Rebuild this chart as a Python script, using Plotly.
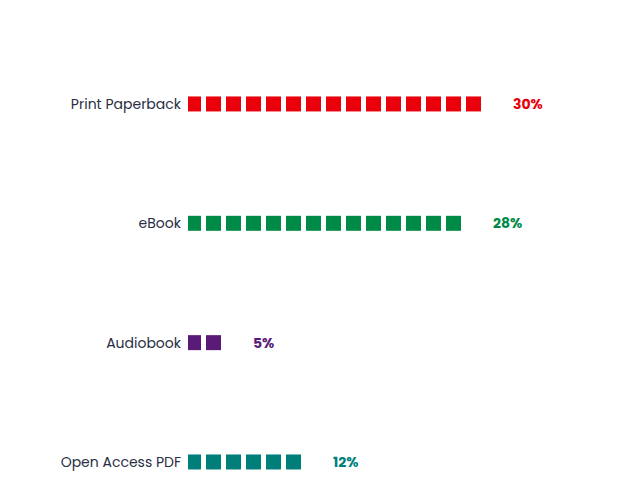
import plotly.graph_objects as go

# data
categories = ["Print Paperback", "eBook", "Audiobook", "Open Access PDF"]
shares = [30, 28, 5, 12]
units = [15, 14, 2, 6]  # one square per 2%
colors = ["#E8000B", "#008A47", "#5A1A78", "#007F7A"]

fig = go.Figure()
for row, (cat, pct, n, col) in enumerate(zip(categories, shares, units, colors)):
    fig.add_trace(go.Scatter(
        x=list(range(n)), y=[row] * n, mode="markers",
        marker=dict(symbol="square", size=15, color=col, line_width=0),
        hoverinfo="skip", showlegend=False,
    ))
    fig.add_annotation(
        x=n + 0.85, y=row, text=f"<b>{pct}%</b>", showarrow=False,
        xanchor="left", font=dict(color=col, size=14, family="Poppins, Inter, sans-serif"),
    )

fig.update_xaxes(range=[-0.275, 22.725], visible=False)
fig.update_yaxes(
    range=[3.218, -0.804], tickmode="array",
    tickvals=list(range(len(categories))), ticktext=categories,
    showgrid=False, zeroline=False, ticks="", ticklabelstandoff=6,
    tickfont=dict(size=14, color="#2A2F45", family="Poppins, Inter, sans-serif"),
)
fig.update_layout(
    width=640, height=480, margin=dict(l=180, r=0, t=0, b=0),
    plot_bgcolor="white", paper_bgcolor="white",
)
fig.write_html("out.html")
